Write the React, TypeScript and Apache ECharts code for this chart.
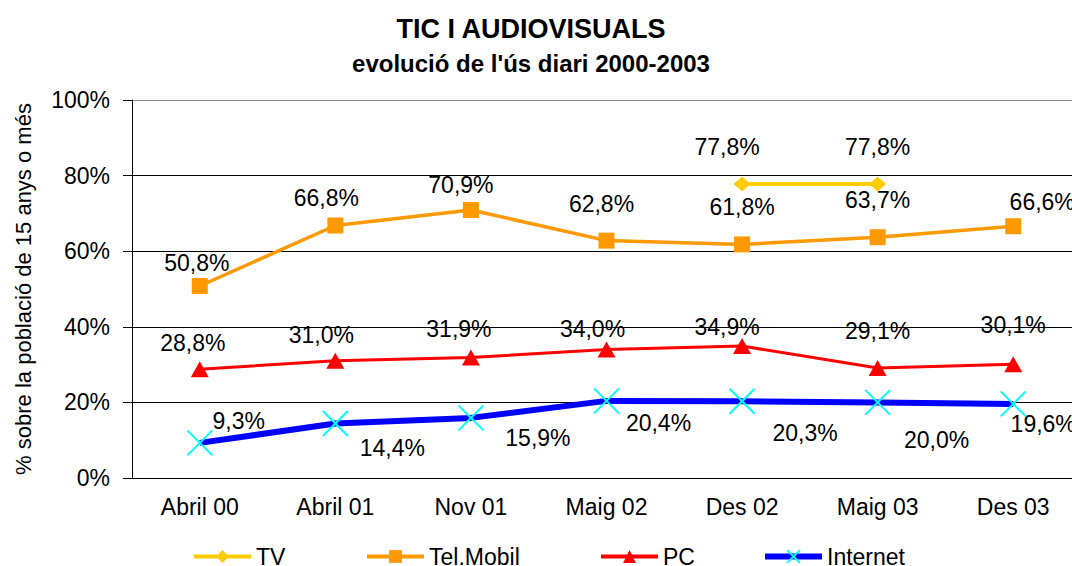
import React, { useEffect, useRef } from "react";
import * as echarts from "echarts";

const categories = ["Abril 00", "Abril 01", "Nov 01", "Maig 02", "Des 02", "Maig 03", "Des 03"];
const tvValues: (number | string)[] = ["-", "-", "-", "-", 77.8, 77.8, "-"];
const mobilValues = [50.8, 66.8, 70.9, 62.8, 61.8, 63.7, 66.6];
const pcValues = [28.8, 31.0, 31.9, 34.0, 34.9, 29.1, 30.1];
const internetValues = [9.3, 14.4, 15.9, 20.4, 20.3, 20.0, 19.6];
const yTicks = [0, 20, 40, 60, 80, 100];

// label offsets (label centre relative to point) — styling only
const tvOffsets = [[0, 0], [0, 0], [0, 0], [0, 0], [-15, -37], [0, -37], [0, 0]];
const mobilOffsets = [[-3, -23], [-9, -27], [-10, -25], [-5, -37], [0, -37], [0, -37], [29, -24]];
const pcOffsets = [[-7, -26], [-14, -26], [-12, -28], [-14, -20], [-15, -19], [0, -37], [0, -39]];
const internetOffsets = [[39, -22], [57, 24], [67, 20], [52, 22], [63, 32], [59, 38], [30, 20]];

const FONT = "'Liberation Sans', Arial, sans-serif";
const fmt = (v: number) => v.toFixed(1).replace(".", ",") + "%";

function withLabels(values: (number | string)[], offsets: number[][]) {
  return values.map((v, i) =>
    typeof v === "number"
      ? { value: v, label: { offset: offsets[i] } }
      : v
  );
}

export default function App() {
  const ref = useRef<HTMLDivElement>(null);
  useEffect(() => {
    if (!ref.current) return;
    const chart = echarts.init(ref.current, null, { renderer: "svg" });
    const labelBase = {
      show: true,
      position: "inside",
      color: "#000",
      fontSize: 23,
      fontFamily: FONT,
      formatter: (p: any) => fmt(p.value),
    };
    const legends = [
      { name: "TV", left: 192, width: 4 },
      { name: "Tel.Mobil", left: 365, width: 4 },
      { name: "PC", left: 599, width: 4 },
      { name: "Internet", left: 762, width: 6 },
    ];
    chart.setOption({
      animation: false,
      backgroundColor: "#fff",
      title: {
        text: "TIC I AUDIOVISUALS",
        subtext: "evolució de l'ús diari 2000-2003",
        left: 526,
        textAlign: "center",
        top: 10,
        itemGap: 9,
        textStyle: { fontFamily: FONT, fontWeight: "bold", fontSize: 27, color: "#000" },
        subtextStyle: { fontFamily: FONT, fontWeight: "bold", fontSize: 24, color: "#000" },
      },
      grid: { left: 132, top: 100, width: 949, height: 378, outerBoundsMode: "none", containLabel: false },
      legend: legends.map((l) => ({
        data: [l.name],
        left: l.left,
        top: 545,
        itemWidth: 57,
        itemHeight: 16,
        itemGap: 0,
        padding: 0,
        lineStyle: { width: l.width },
        textStyle: { fontFamily: FONT, fontSize: 23, color: "#000", padding: [0, 0, 0, 0] },
      })),
      xAxis: {
        type: "category",
        data: categories,
        boundaryGap: true,
        axisLine: { lineStyle: { color: "#000", width: 1 } },
        axisTick: { show: false },
        axisLabel: { color: "#000", fontSize: 23, fontFamily: FONT, margin: 17 },
      },
      yAxis: {
        type: "value",
        min: yTicks[0],
        max: yTicks[yTicks.length - 1],
        interval: 20,
        name: "% sobre la població de 15 anys o més",
        nameLocation: "middle",
        nameGap: 98,
        nameTextStyle: { color: "#000", fontSize: 22, fontFamily: FONT },
        axisLine: { show: true, lineStyle: { color: "#000", width: 1 } },
        axisTick: { show: true, length: 9, lineStyle: { color: "#000" } },
        axisLabel: { color: "#000", fontSize: 23, fontFamily: FONT, margin: 22, formatter: "{value}%" },
        splitLine: {
          lineStyle: { color: ["#000", "#000", "#000", "#000", "#000", "#888"], width: 1 },
        },
      },
      series: [
        {
          name: "TV",
          type: "line",
          data: withLabels(tvValues, tvOffsets),
          symbol: "diamond",
          symbolSize: [17, 15],
          itemStyle: { color: "#FFCC00" },
          lineStyle: { color: "#FFCC00", width: 4 },
          label: labelBase,
          z: 4,
        },
        {
          name: "Tel.Mobil",
          type: "line",
          data: withLabels(mobilValues, mobilOffsets),
          symbol: "rect",
          symbolSize: 16,
          itemStyle: { color: "#FF9900" },
          lineStyle: { color: "#FF9900", width: 3.5 },
          label: labelBase,
          z: 3,
        },
        {
          name: "PC",
          type: "line",
          data: withLabels(pcValues, pcOffsets),
          symbol: "triangle",
          symbolSize: [18, 16],
          itemStyle: { color: "#FF0000" },
          lineStyle: { color: "#FF0000", width: 3 },
          label: labelBase,
          z: 2,
        },
        {
          name: "Internet",
          type: "line",
          data: withLabels(internetValues, internetOffsets),
          symbol: "path://M0,0L10,10M10,0L0,10",
          symbolSize: 25,
          itemStyle: { color: "#00FFFF", borderColor: "#00FFFF", borderWidth: 2 },
          lineStyle: { color: "#0000FF", width: 6 },
          label: labelBase,
          z: 2,
        },
      ],
    });
    return () => chart.dispose();
  }, []);
  return (
    <div
      ref={ref}
      style={{ position: "fixed", left: 0, top: 0, width: 1072, height: 566, background: "#fff" }}
    />
  );
}
